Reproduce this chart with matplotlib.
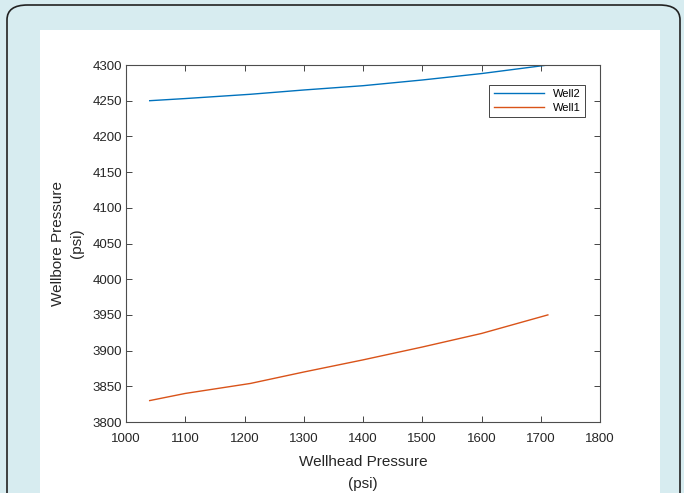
import matplotlib
matplotlib.use("Agg")
import matplotlib.pyplot as plt
from matplotlib.patches import FancyBboxPatch, Rectangle

# well data (psi)
wellhead = [1040, 1100, 1210, 1300, 1400, 1500, 1600, 1712]
well2 = [4250, 4253, 4259, 4265, 4271, 4279, 4288, 4300]
well1 = [3830, 3840, 3854, 3870, 3887, 3905, 3924, 3950]

plt.rcParams["font.family"] = ["Liberation Sans", "DejaVu Sans"]

fig = plt.figure(figsize=(6.84, 4.93), dpi=100)
fig.patch.set_facecolor("#d7ecf0")

# rounded frame and white panel behind the axes
W, H = 684, 493
frame = FancyBboxPatch((7 / W, -0.1), 673 / W, 488 / H + 0.1,
                       boxstyle="round,pad=0,rounding_size=0.03",
                       transform=fig.transFigure, facecolor="#d7ecf0",
                       edgecolor="#222222", linewidth=1.2, zorder=-2)
fig.patches.append(frame)
panel = Rectangle((40 / W, 0), 620 / W, (493 - 30) / H,
                  transform=fig.transFigure, facecolor="white",
                  edgecolor="none", zorder=-1)
fig.patches.append(panel)

ax = fig.add_axes([126 / W, 1 - 422 / H, 474 / W, 357 / H])
ax.set_facecolor("white")
ax.plot(wellhead, well2, color="#0072BD", linewidth=1.0, label="Well2")
ax.plot(wellhead, well1, color="#D95319", linewidth=1.0, label="Well1")

ax.set_xlim(1000, 1800)
ax.set_ylim(3800, 4300)
ax.set_xticks(range(1000, 1801, 100))
ax.set_yticks(range(3800, 4301, 50))
ax.tick_params(direction="in", top=True, right=True, labelsize=9.5,
               colors="#262626", length=4, width=0.6)
ax.tick_params(axis="x", pad=8)
ax.tick_params(axis="y", pad=3)
for s in ax.spines.values():
    s.set_color("#4d4d4d")
    s.set_linewidth(0.8)

ax.set_xlabel("Wellhead Pressure\n(psi)", fontsize=11, color="#262626",
              linespacing=1.7, labelpad=7)
ax.set_ylabel("Wellbore Pressure\n(psi)", fontsize=11, color="#262626",
              linespacing=1.4, labelpad=6)

leg = ax.legend(loc="upper right", bbox_to_anchor=(0.98, 0.96), fontsize=8,
                fancybox=False, edgecolor="#262626", framealpha=1,
                handlelength=4.5, borderpad=0.4, labelspacing=0.3)
leg.get_frame().set_linewidth(0.6)

fig.savefig("out.png", dpi=100, facecolor=fig.get_facecolor())
